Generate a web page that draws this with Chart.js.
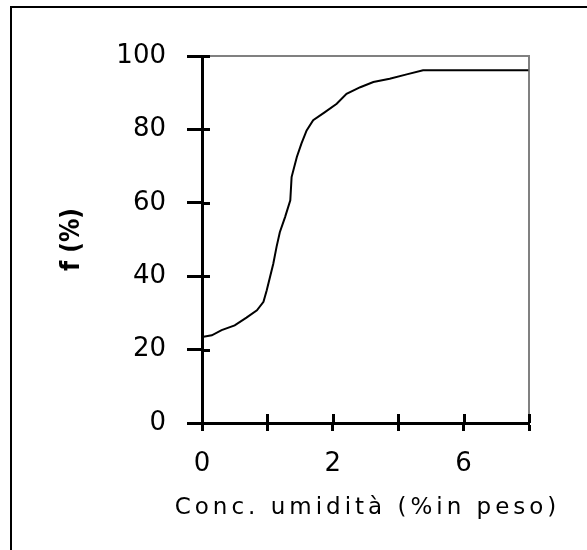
<!DOCTYPE html>
<html>
<head>
<meta charset="utf-8">
<script src="https://cdn.jsdelivr.net/npm/chart.js@4"></script>
<style>
  html, body { margin: 0; padding: 0; background: #fff; }
  canvas { display: block; }
</style>
</head>
<body>
<canvas id="chart" width="587" height="550"></canvas>
<script>
// curve; x is in axis tick steps (0..5)
const concSteps = [0, 0.15, 0.30, 0.50, 0.68, 0.84, 0.94, 0.99, 1.04, 1.09, 1.14, 1.19, 1.27, 1.35, 1.37, 1.45, 1.52, 1.60, 1.70, 1.88, 2.06, 2.21, 2.42, 2.62, 2.87, 3.13, 3.38, 4.99];
const fPercent = [23.4, 23.9, 25.3, 26.6, 28.7, 30.7, 33, 36.2, 39.8, 43.4, 48, 52, 56.1, 60.7, 67, 72.5, 76.1, 79.7, 82.5, 84.7, 87, 89.7, 91.5, 92.9, 93.8, 95, 96.1, 96.1];
const xTickLabels = ['0', '', '2', '', '6', ''];
const yTicks = [0, 20, 40, 60, 80, 100];
const xTitle = 'Conc. umidità (%in peso)';
const yTitle = 'f (%)';

const tickFont = { family: 'DejaVu Sans', size: 26 };

const extras = {
  id: 'extras',
  beforeDraw(chart) {
    const ctx = chart.ctx;
    ctx.save();
    ctx.fillStyle = '#fff';
    ctx.fillRect(0, 0, chart.width, chart.height);
    // outer frame (only left and top visible)
    ctx.strokeStyle = '#000';
    ctx.lineWidth = 2;
    ctx.strokeRect(11, 7, chart.width + 20, chart.height + 20);
    ctx.restore();
  },
  beforeDatasetsDraw(chart) {
    const { ctx, chartArea: a } = chart;
    ctx.save();
    ctx.strokeStyle = '#808080';
    ctx.lineWidth = 2;
    ctx.beginPath();
    ctx.moveTo(a.left, a.top);
    ctx.lineTo(a.right, a.top);
    ctx.lineTo(a.right, a.bottom - 8);
    ctx.stroke();
    ctx.restore();
  },
  afterDraw(chart) {
    const { ctx, chartArea: a, scales } = chart;
    ctx.save();
    ctx.strokeStyle = '#000';
    ctx.lineWidth = 3;
    ctx.beginPath();
    yTicks.forEach(v => {
      const y = Math.round(scales.y.getPixelForValue(v)) + 0.5;
      ctx.moveTo(a.left, y);
      ctx.lineTo(a.left + 8, y);
    });
    for (let i = 0; i < xTickLabels.length; i++) {
      const x = Math.round(scales.x.getPixelForValue(i)) + 0.5;
      ctx.moveTo(x, a.bottom);
      ctx.lineTo(x, a.bottom - 9);
    }
    ctx.stroke();
    // x axis title, widely spaced like the original bitmap font
    ctx.fillStyle = '#000';
    ctx.font = '23px "DejaVu Sans"';
    ctx.letterSpacing = '4px';
    ctx.textAlign = 'center';
    ctx.textBaseline = 'alphabetic';
    ctx.fillText(xTitle, (a.left + a.right) / 2 + 2, 514);
    ctx.restore();
  }
};

new Chart(document.getElementById('chart'), {
  type: 'line',
  data: {
    datasets: [{
      data: concSteps.map((x, i) => ({ x: x, y: fPercent[i] })),
      borderColor: '#000',
      borderWidth: 2,
      pointRadius: 0,
      tension: 0,
      fill: false
    }]
  },
  options: {
    responsive: false,
    animation: false,
    layout: { padding: { top: 56, right: 58, left: 0, bottom: 0 } },
    plugins: { legend: { display: false }, tooltip: { enabled: false } },
    scales: {
      x: {
        type: 'linear',
        min: 0,
        max: 5,
        afterFit(scale) { scale.height = 127; },
        afterBuildTicks(scale) {
          scale.ticks = xTickLabels.map((_, i) => ({ value: i }));
        },
        ticks: {
          autoSkip: false,
          maxRotation: 0,
          padding: 18,
          color: '#000',
          font: tickFont,
          callback: (v, i) => xTickLabels[i]
        },
        grid: {
          drawOnChartArea: false,
          drawTicks: true,
          tickLength: 8,
          tickWidth: 3,
          color: '#000'
        },
        border: { display: true, color: '#000', width: 3 }
      },
      y: {
        min: 0,
        max: 100,
        afterFit(scale) { scale.width = 202; },
        afterBuildTicks(scale) {
          scale.ticks = yTicks.map(v => ({ value: v }));
        },
        ticks: {
          padding: 21,
          color: '#000',
          font: tickFont
        },
        grid: {
          drawOnChartArea: false,
          drawTicks: true,
          tickLength: 15,
          tickWidth: 3,
          color: '#000'
        },
        border: { display: true, color: '#000', width: 3 },
        title: {
          display: true,
          text: yTitle,
          color: '#000',
          font: { family: 'DejaVu Sans Condensed', size: 26, weight: 'bold' },
          padding: { top: 57, bottom: 0 }
        }
      }
    }
  },
  plugins: [extras]
});
</script>
</body>
</html>
